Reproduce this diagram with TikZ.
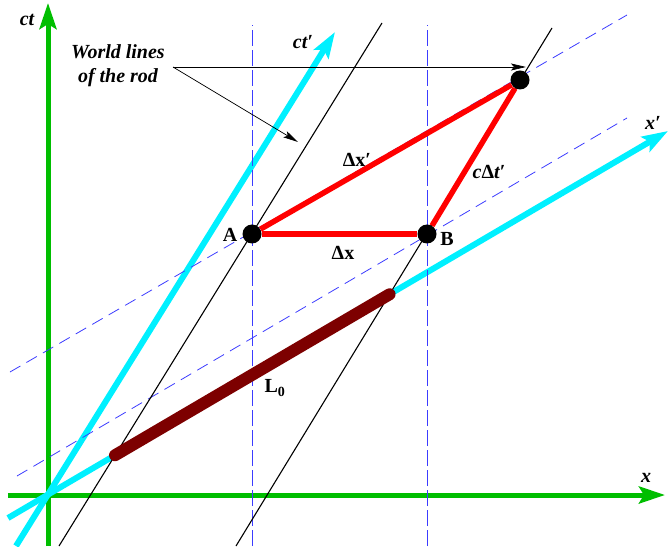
\documentclass[tikz,border=0pt]{standalone}
\usepackage{fontspec}
\setmainfont{Liberation Serif}
\usetikzlibrary{arrows.meta}
\definecolor{asgroen}{RGB}{0,190,0}
\definecolor{ascyaan}{RGB}{0,240,255}
\definecolor{staafbruin}{RGB}{125,0,0}
\definecolor{hulpblauw}{RGB}{60,60,255}
\begin{document}
\begin{tikzpicture}[x=1pt,y=1pt,>=Stealth]

% --- Stijldefinities ---
\tikzset{
    hoofdas/.style={
        ->,
        draw=asgroen,
        line width=5pt,
        >={Stealth[length=26pt,width=17pt,inset=5pt]}
    },
    bewegendas/.style={
        hoofdas,
        draw=ascyaan,
        line width=6pt
    },
    hulplijn/.style={
        draw=hulpblauw,
        line width=0.8pt,
        dash pattern=on 16pt off 4pt
    },
    schuin/.style={
        hulplijn,
        dash pattern=on 12pt off 7pt
    },
    wereldlijn/.style={
        draw=black,
        line width=1.1pt
    },
    zijde/.style={
        draw=red,
        line width=5.5pt
    },
    staaf/.style={
        draw=staafbruin,
        line width=12pt,
        line cap=round
    },
    punt/.style={
        circle,
        fill=black,
        minimum size=19pt,
        inner sep=0pt
    },
    pijl/.style={
        ->,
        line width=0.7pt,
        >={Stealth[length=15pt,width=7pt,inset=3pt]}
    },
    tekst/.style={
        font=\fontsize{20}{24}\selectfont\bfseries\itshape,
        inner sep=1pt
    },
    letter/.style={
        font=\fontsize{20}{24}\selectfont\bfseries,
        inner sep=1pt
    }
}

\useasboundingbox (-48,-51) rectangle (620,495);

% --- Coordinaten ---
\coordinate (O) at (0,0);
\coordinate (ctbegin) at (0,-51);
\coordinate (ctend) at (0,492);
\coordinate (xbegin) at (-40,0);
\coordinate (xend) at (617,0);
\coordinate (ctpbegin) at (-32,-51);
\coordinate (ctpend) at (287,463);
\coordinate (xpbegin) at (-40,-23);
\coordinate (xpend) at (620,364);

% wereldlijnen van de staaf
\coordinate (w1a) at (11,-51);
\coordinate (w1b) at (334,472);
\coordinate (w2a) at (188,-51);
\coordinate (w2b) at (504,467);

% hulplijnen
\coordinate (vA1) at (204,-51);
\coordinate (vA2) at (204,470);
\coordinate (vB1) at (379,-51);
\coordinate (vB2) at (379,470);
\coordinate (dA1) at (-38,123);
\coordinate (dA2) at (579,480);
\coordinate (dB1) at (-31,19);
\coordinate (dB2) at (579,377);

% staaf (op de x'-as)
\coordinate (s1) at (intersection of xpbegin--xpend and w1a--w1b);
\coordinate (s2) at (intersection of xpbegin--xpend and w2a--w2b);

% pijlpunten
\coordinate (wlstart) at (125,428);
\coordinate (tip1) at (250,353);
\coordinate (tip2) at (478,428);

% --- Assen ---
\draw[hoofdas] (ctbegin) -- (ctend);
\draw[hoofdas] (xbegin) -- (xend);
\draw[bewegendas] (ctpbegin) -- (ctpend);
\draw[bewegendas] (xpbegin) -- (xpend);

% --- Hulplijnen ---
\draw[hulplijn] (vA1) -- (vA2);
\draw[hulplijn] (vB1) -- (vB2);
\draw[schuin] (dA1) -- (dA2);
\draw[schuin] (dB1) -- (dB2);

% --- Wereldlijnen en staaf ---
\draw[wereldlijn] (w1a) -- (w1b);
\draw[wereldlijn] (w2a) -- (w2b);
\draw[staaf] (s1) -- (s2);

% --- Driehoek ---
\node[punt] (pA) at (204,261) {};
\node[punt] (pB) at (379,261) {};
\node[punt] (pC) at (472,415) {};
\draw[zijde] (pA) -- (pB);
\draw[zijde] (pA) -- (pC);
\draw[zijde] (pB) -- (pC);

% --- Labels ---
\node[tekst] (lct) at (-21,475) {ct};
\node[tekst] (lctp) at (255,453) {ct′};
\node[tekst] (lx) at (598,17) {x};
\node[tekst] (lxp) at (605,372) {x′};
\node[tekst, align=center] (lwl) at (70,429) {World lines\\of the rod};
\node[letter] (lA) at (182,260) {A};
\node[letter] (lB) at (399,256) {B};
\node[letter] (ldx) at (295,242) {Δx};
\node[letter] (ldxp) at (309,335) {Δx′};
\node[letter] (lcdt) at (441,323) {\textit{c}Δ\textit{t′}};
\node[letter] (lL0) at (227,107) {L\textsubscript{0}};

% --- Pijlen ---
\draw[pijl] (wlstart) -- (tip1);
\draw[pijl] (wlstart) -- (tip2);

\end{tikzpicture}
\end{document}
